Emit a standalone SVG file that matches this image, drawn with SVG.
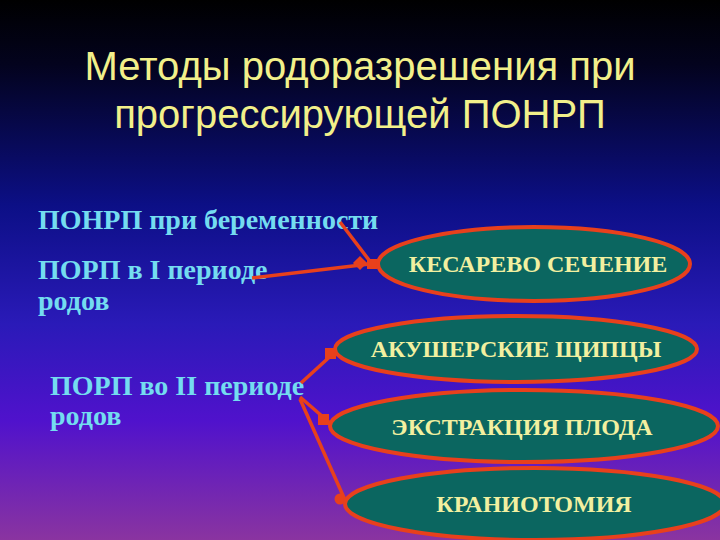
<svg xmlns="http://www.w3.org/2000/svg" width="720" height="540" viewBox="0 0 720 540">
<defs>
<linearGradient id="bg" x1="0" y1="0" x2="0" y2="1">
<stop offset="0" stop-color="#000000"/>
<stop offset="0.12" stop-color="#03031e"/>
<stop offset="0.38" stop-color="#0c0f86"/>
<stop offset="0.6" stop-color="#2a1ab8"/>
<stop offset="0.78" stop-color="#5012cc"/>
<stop offset="1" stop-color="#8a34a0"/>
</linearGradient>
</defs>
<style>
.title{font-family:"Liberation Sans",Arial,sans-serif;font-size:40px;fill:#f2f08a;text-anchor:middle}
.left{font-family:"Liberation Serif","Times New Roman",serif;font-weight:bold;font-size:28px;fill:#74dcf0}
.ell{fill:#0b6660;stroke:#e8401c;stroke-width:4}
.lab{font-family:"Liberation Serif","Times New Roman",serif;font-weight:bold;font-size:24px;fill:#f2f0a0;text-anchor:middle}
.con{stroke:#e8401c;stroke-width:3.5;fill:none}
.mk{fill:#e8401c}
</style>
<rect width="720" height="540" fill="url(#bg)"/>
<g id="title">
<text class="title" x="360" y="80">Методы родоразрешения при</text>
<text class="title" x="360" y="128">прогрессирующей ПОНРП</text>
</g>
<g id="n-ponrp">
<text class="left" x="38" y="229">ПОНРП при беременности</text>
</g>
<g id="n-porp1">
<text class="left" x="38" y="279">ПОРП в I периоде</text>
<text class="left" x="38" y="310">родов</text>
</g>
<g id="n-porp2">
<text class="left" x="50" y="395">ПОРП во II периоде</text>
<text class="left" x="50" y="425">родов</text>
</g>
<g id="connectors">
<line class="con" x1="340" y1="222" x2="372" y2="264"/>
<line class="con" x1="252" y1="278" x2="378" y2="263"/>
<rect class="mk" x="355" y="258" width="10" height="10" transform="rotate(45 360 263)"/>
<rect class="mk" x="367" y="259" width="10" height="10"/>
<line class="con" x1="301" y1="383" x2="335" y2="352"/>
<rect class="mk" x="325" y="348" width="11" height="11"/>
<line class="con" x1="300" y1="397" x2="330" y2="423"/>
<rect class="mk" x="318" y="414" width="11" height="11"/>
<line class="con" x1="300" y1="399" x2="345" y2="500"/>
<circle class="mk" cx="340" cy="499" r="5.5"/>
</g>
<g id="n-kesarevo">
<ellipse class="ell" cx="534" cy="264" rx="156" ry="37"/>
<text class="lab" x="538" y="272">КЕСАРЕВО СЕЧЕНИЕ</text>
</g>
<g id="n-shchiptsy">
<ellipse class="ell" cx="516" cy="349" rx="181" ry="33"/>
<text class="lab" x="516" y="357">АКУШЕРСКИЕ ЩИПЦЫ</text>
</g>
<g id="n-ekstraktsiya">
<ellipse class="ell" cx="524" cy="426" rx="194" ry="36"/>
<text class="lab" x="522" y="435">ЭКСТРАКЦИЯ ПЛОДА</text>
</g>
<g id="n-kraniotomiya">
<ellipse class="ell" cx="535" cy="504" rx="190" ry="36"/>
<text class="lab" x="534" y="512">КРАНИОТОМИЯ</text>
</g>
</svg>
